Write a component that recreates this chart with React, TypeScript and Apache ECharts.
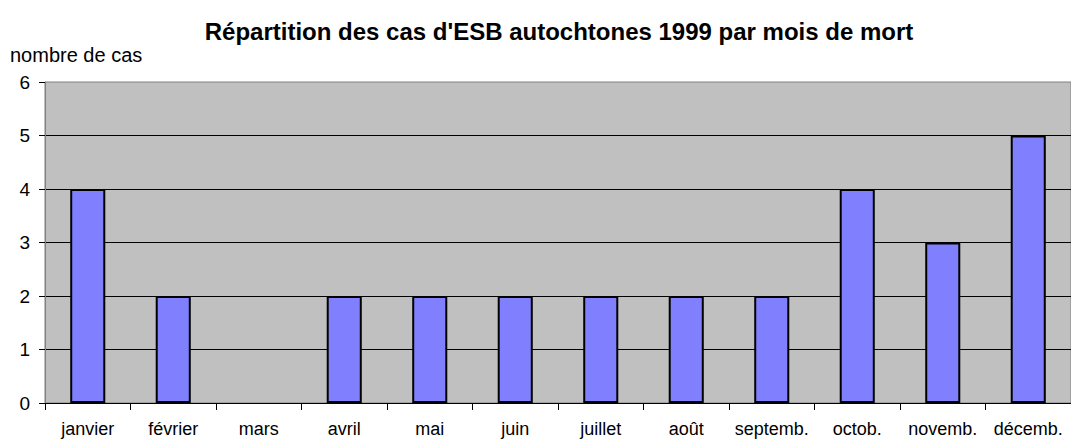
import React, { useEffect, useRef } from "react";
import * as echarts from "echarts";

const months = ["janvier", "février", "mars", "avril", "mai", "juin", "juillet", "août", "septemb.", "octob.", "novemb.", "décemb."];
const cases = [4, 2, 0, 2, 2, 2, 2, 2, 2, 4, 3, 5];
const titleText = "Répartition des cas d'ESB autochtones 1999 par mois de mort";
const yAxisTitle = "nombre de cas";

export default function App() {
  const ref = useRef<HTMLDivElement>(null);
  useEffect(() => {
    if (!ref.current) return;
    const chart = echarts.init(ref.current, null, { renderer: "svg" });
    chart.setOption({
      animation: false,
      backgroundColor: "#ffffff",
      title: {
        text: titleText,
        left: 554,
        top: 14,
        textAlign: "center",
        textStyle: { fontFamily: "Liberation Sans, Arial, sans-serif", fontSize: 24, fontWeight: "bold", color: "#000" },
      },
      graphic: [
        {
          type: "text",
          x: 10,
          y: 55,
          style: {
            text: yAxisTitle,
            fontFamily: "Liberation Sans, Arial, sans-serif",
            fontSize: 20,
            fill: "#000",
            textVerticalAlign: "middle",
          },
        },
      ],
      grid: {
        left: 45,
        top: 82,
        bottom: 36,
        right: -7,
        show: true,
        backgroundColor: "#C0C0C0",
        borderColor: "#808080",
        borderWidth: 1,
      },
      xAxis: {
        type: "category",
        data: months,
        axisLine: { lineStyle: { color: "#000", width: 1 } },
        axisTick: { show: true, length: 7, alignWithLabel: false, lineStyle: { color: "#000" } },
        axisLabel: { color: "#000", fontSize: 18, fontFamily: "Liberation Sans, Arial, sans-serif", margin: 17, interval: 0 },
      },
      yAxis: {
        type: "value",
        min: 0,
        max: 6,
        interval: 1,
        axisLine: { show: true, lineStyle: { color: "#808080", width: 1 } },
        axisTick: { show: true, length: 6, lineStyle: { color: "#000" } },
        axisLabel: { color: "#000", fontSize: 19, fontFamily: "Liberation Sans, Arial, sans-serif", margin: 15 },
        splitLine: { show: true, showMaxLine: false, lineStyle: { color: "#000", width: 1 } },
      },
      series: [
        {
          type: "bar",
          data: cases.map((v) => ({ value: v, itemStyle: v === 0 ? { borderWidth: 0 } : undefined })),
          barWidth: "41%",
          itemStyle: { color: "#8080FF", borderColor: "#000", borderWidth: 2 },
        },
      ],
    });
    return () => chart.dispose();
  }, []);
  return <div ref={ref} style={{ position: "absolute", left: 0, top: 0, width: 1071, height: 439 }} />;
}
